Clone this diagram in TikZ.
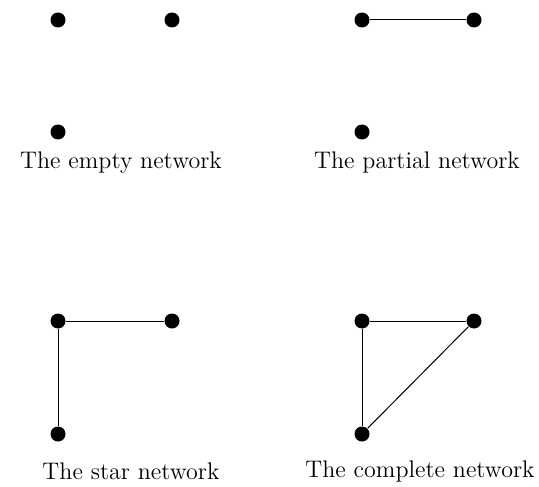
\documentclass[tikz,border=0pt]{standalone}
\usepackage{amsmath, amssymb}
\usepackage{tikz}

\tikzset{
    vertex/.style={circle, fill=black, inner sep=0pt, minimum size=7.5pt},
    caption/.style={font=\fontsize{12}{14}\selectfont},
}

\begin{document}
\begin{tikzpicture}[x=0.5pt, y=-0.5pt, line width=0.5pt]
    \useasboundingbox (0, 0) rectangle (539, 486);

    % the empty network
    \node[vertex] (ea) at (58, 20) {};
    \node[vertex] (eb) at (172, 20) {};
    \node[vertex] (ec) at (58, 132) {};
    \node[caption] (elabel) at (121, 163) {The empty network};

    % the partial network
    \node[vertex] (pa) at (362, 20) {};
    \node[vertex] (pb) at (474, 20) {};
    \node[vertex] (pc) at (362, 132) {};
    \node[caption] (plabel) at (417, 163) {The partial network};
    \draw (pa) -- (pb);

    % the star network
    \node[vertex] (sa) at (58, 321) {};
    \node[vertex] (sb) at (172, 321) {};
    \node[vertex] (sc) at (58, 434) {};
    \node[caption] (slabel) at (131, 471) {The star network};
    \draw (sa) -- (sb);
    \draw (sa) -- (sc);

    % the complete network
    \node[vertex] (ca) at (362, 321) {};
    \node[vertex] (cb) at (474, 321) {};
    \node[vertex] (cc) at (362, 434) {};
    \node[caption] (clabel) at (420, 471) {The complete network};
    \draw (ca) -- (cb);
    \draw (ca) -- (cc);
    \draw (cb) -- (cc);
\end{tikzpicture}
\end{document}
